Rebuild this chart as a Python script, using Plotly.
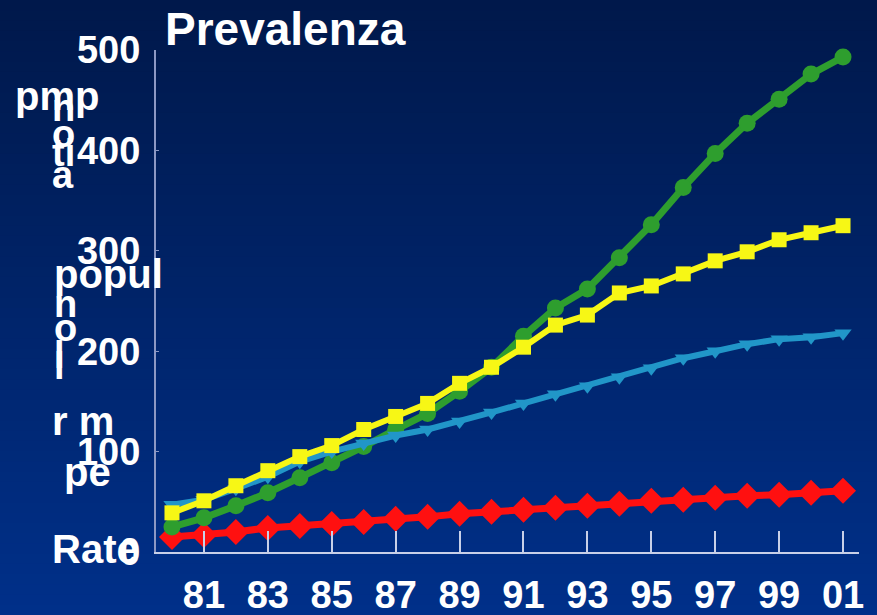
import plotly.graph_objects as go

# ---- data ----
years = list(range(1980, 2002))
green_vals = [25, 34, 46, 59, 74, 89, 105, 122, 138, 160, 184, 215, 243, 262, 293, 326, 363, 397, 427, 451, 476, 493]
yellow_vals = [39, 51, 66, 81, 95, 106, 122, 135, 148, 168, 184, 204, 226, 236, 258, 265, 277, 290, 299, 311, 318, 325]
blue_vals = [47, 52, 63, 75, 90, 100, 108, 116, 122, 130, 139, 148, 157, 165, 174, 183, 193, 200, 207, 212, 214, 218]
red_vals = [15, 17, 20, 24, 26, 28, 30, 33, 35, 38, 40, 42, 44, 46, 48, 51, 52, 54, 56, 57, 59, 61]
xtick_years = list(range(1981, 2002, 2))
xtick_labels = ["81", "83", "85", "87", "89", "91", "93", "95", "97", "99", "01"]
ytick_vals = [0, 100, 200, 300, 400, 500]
title_text = "Prevalenza"

W, H = 877, 615
ML, MR, MT, MB = 156, 18, 50, 63
PW, PH = W - ML - MR, H - MT - MB
FONT = "Liberation Sans, Arial, sans-serif"


def px2paper(px, py):
    return (px - ML) / PW, (H - MB - py) / PH


fig = go.Figure()

series = [
    (red_vals, "#FF1010", "diamond", 20, 7),
    (green_vals, "#2E9E2E", "circle", 17, 7),
    (blue_vals, "#2196C8", "triangle-down", 15, 6),
    (yellow_vals, "#F7F715", "square", 15, 6),
]
for vals, col, sym, msize, lw in series:
    fig.add_trace(go.Scatter(
        x=years, y=vals, mode="lines+markers",
        line=dict(color=col, width=lw),
        marker=dict(symbol=sym, size=msize, color=col, line=dict(width=0)),
        cliponaxis=False, showlegend=False, hoverinfo="skip",
    ))

# background gradient bands
shapes = []
N = 60
top = (0, 24, 74)
bot = (0, 48, 138)
for i in range(N):
    t = (i + 0.5) / N
    c = tuple(int(round(top[k] + (bot[k] - top[k]) * t)) for k in range(3))
    y0p = i * H / N
    y1p = (i + 1) * H / N + 1
    x0, ya = px2paper(0, y0p)
    x1, yb = px2paper(W, y1p)
    shapes.append(dict(type="rect", xref="paper", yref="paper", x0=x0, x1=x1,
                       y0=yb, y1=ya, fillcolor="rgb(%d,%d,%d)" % c,
                       line=dict(width=0), layer="below"))

# garbled axis title fragments
frags = [
    ("pmp", 13, 96, 40),
    ("n", 50, 108, 38),
    ("o", 50, 134, 38),
    ("ti", 50, 153, 38),
    ("a", 50, 175, 38),
    ("popul", 52, 274, 40),
    ("n", 52, 304, 38),
    ("o", 52, 328, 38),
    ("l", 52, 355, 38),
    ("l", 52, 366, 38),
    ("r m", 50, 421, 40),
    ("pe", 62, 472, 40),
    ("Rate", 50, 549, 40),
]
annotations = []
for txt, lx, cy, fs in frags:
    ax, ay = px2paper(lx, cy)
    annotations.append(dict(text=txt, x=ax, y=ay, xref="paper", yref="paper",
                            xanchor="left", yanchor="middle", showarrow=False,
                            font=dict(family=FONT, size=fs, color="white", weight="bold")))

fig.update_layout(
    width=W, height=H,
    margin=dict(l=ML, r=MR, t=MT, b=MB, autoexpand=False),
    paper_bgcolor="rgb(0,36,106)",
    plot_bgcolor="rgba(0,0,0,0)",
    shapes=shapes,
    annotations=annotations,
    title=dict(text=title_text, x=165 / W, xref="container", xanchor="left",
               y=1 - 29 / H, yref="container", yanchor="middle",
               font=dict(family=FONT, size=46, color="white", weight="bold")),
    xaxis=dict(range=[1979.5, 2001.5], tickvals=xtick_years, ticktext=xtick_labels,
               automargin=False,
               showgrid=False, zeroline=False, showline=True, linecolor="#C8D0E8", linewidth=2,
               ticks="inside", ticklen=21, tickwidth=2, tickcolor="#C8D0E8",
               ticklabelstandoff=8,
               tickfont=dict(family=FONT, size=38, color="white", weight="bold")),
    yaxis=dict(range=[0, 500], tickvals=ytick_vals,
               automargin=False,
               showgrid=False, zeroline=False, showline=True, linecolor="#8C98C4", linewidth=2,
               ticks="inside", ticklen=3, tickwidth=1, tickcolor="#8C98C4",
               ticklabelstandoff=6,
               tickfont=dict(family=FONT, size=38, color="white", weight="bold")),
)

fig.write_html("out.html")
